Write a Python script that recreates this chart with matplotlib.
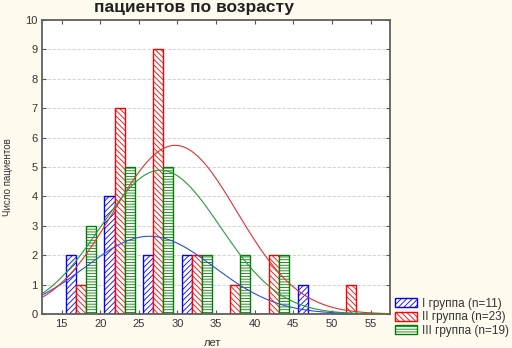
import numpy as np
import matplotlib
matplotlib.use("Agg")
import matplotlib.pyplot as plt
from matplotlib.patches import Patch

plt.rcParams["font.family"] = ["Liberation Sans", "DejaVu Sans"]
plt.rcParams["hatch.linewidth"] = 0.6

# --- data ---
bin_centers = [17.5, 22.5, 27.5, 32.5, 37.5, 42.5, 47.5, 52.5]
group_1 = [2, 4, 2, 2, 0, 0, 1, 0]   # I группа (n=11)
group_2 = [1, 7, 9, 2, 1, 2, 0, 1]   # II группа (n=23)
group_3 = [3, 5, 5, 2, 2, 2, 0, 0]   # III группа (n=19)
labels = ["I группа (n=11)", "II группа (n=23)", "III группа (n=19)"]

# fitted normal curves: (n, mean, sd), bin width 5
fit_n = [11, 23, 19]
fit_mean = [26.4, 29.7, 27.8]
fit_sd = [8.3, 8.0, 7.75]
bin_width = 5

colors = ["#0000ff", "#ff0000", "#008000"]
curve_colors = ["#3050d0", "#e03030", "#2a9a3a"]
hatches = ["//////", "\\\\\\\\\\\\", "------"]
bg = "#fffbee"

fig = plt.figure(figsize=(5.12, 3.48), dpi=100, facecolor=bg)
ax = fig.add_axes([0.0826, 0.0977, 0.679, 0.845])
ax.set_facecolor("white")

bar_w = 1.3
offsets = [-1.3, 0.0, 1.3]
x = np.array(bin_centers)
for vals, off, c, h in zip([group_1, group_2, group_3], offsets, colors, hatches):
    ax.bar(x + off, vals, width=bar_w, facecolor="white", edgecolor=c,
           hatch=h, linewidth=1.0, zorder=2)

grid = np.linspace(12.5, 57.5, 300)
for n, mu, sd, c in zip(fit_n, fit_mean, fit_sd, curve_colors):
    dens = n * bin_width / (sd * np.sqrt(2 * np.pi)) * np.exp(-0.5 * ((grid - mu) / sd) ** 2)
    ax.plot(grid, dens, color=c, linewidth=0.8, zorder=3)

ax.set_xlim(12.5, 57.5)
ax.set_ylim(0, 10)
ax.set_xticks(range(15, 56, 5))
ax.set_yticks(range(0, 11))
ax.yaxis.grid(True, color="#cccccc", linestyle=(0, (4, 2)), linewidth=0.6, zorder=0)
ax.set_axisbelow(True)
ax.tick_params(direction="in", length=3, width=0.8, colors="#555555",
               labelcolor="#333333", labelsize=8, top=True, right=True)
for s in ax.spines.values():
    s.set_color("#606060")
    s.set_linewidth(1.3)

fig.text(0.0156, 0.49, "Число пациентов", rotation=90, ha="center", va="center",
         fontsize=7, color="#333333")
fig.text(0.416, 0.0, "лет", ha="center", va="bottom", fontsize=8, color="#333333")
fig.text(0.379, 1 - 12 / 348, "пациентов по возрасту", ha="center", va="baseline",
         fontsize=12.5, fontweight="bold", color="#222222")

handles = [Patch(facecolor="white", edgecolor=c, hatch=h, linewidth=1.0)
           for c, h in zip(colors, hatches)]
fig.legend(handles=handles, labels=labels, loc="upper left",
           bbox_to_anchor=(0.772, 0.145), frameon=False, fontsize=8.5,
           handlelength=1.8, handleheight=0.8, handletextpad=0.5,
           labelspacing=0.15, borderaxespad=0, borderpad=0,
           labelcolor="#333333")

fig.savefig("out.png", dpi=100, facecolor=bg)
